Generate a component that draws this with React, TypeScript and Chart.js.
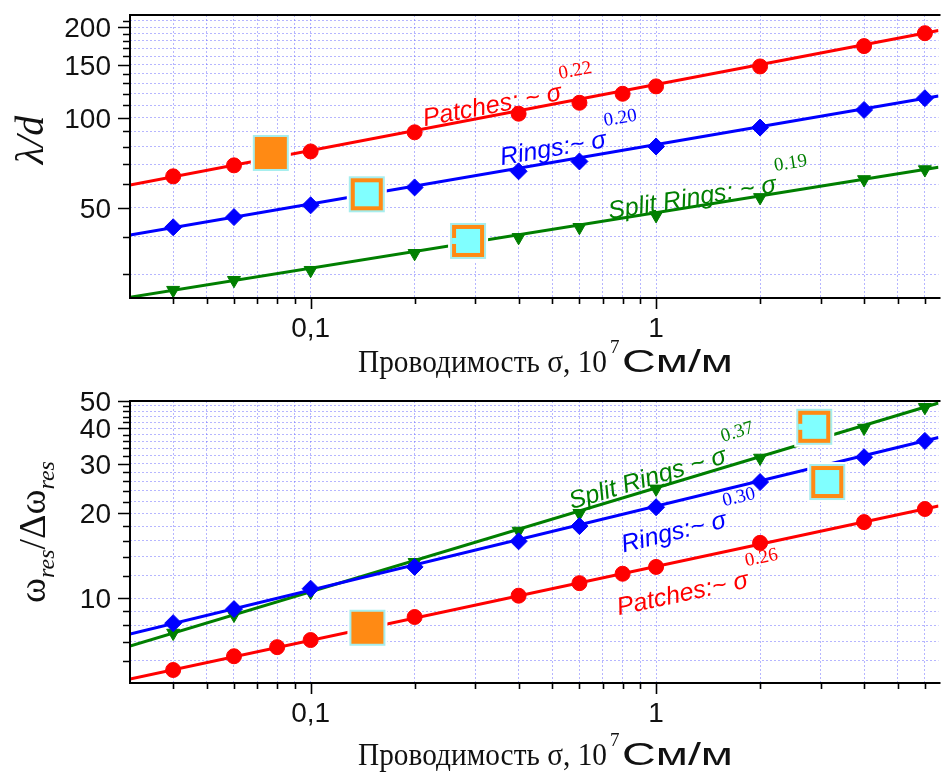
import React, { useEffect, useRef } from 'react';
import { Chart, registerables } from 'chart.js';
Chart.register(...registerables);

// ---------- data (conductivity σ, 10^7 S/m) ----------
const xPatchesTop = [0.04, 0.06, 0.1, 0.2, 0.4, 0.6, 0.8, 1, 2, 4, 6];
const yPatchesTop = [63.7, 69.3, 77.1, 89.3, 103, 112, 120, 127, 148, 173, 191];
const xRingsTop = [0.04, 0.06, 0.1, 0.2, 0.4, 0.6, 1, 2, 4, 6];
const yRingsTop = [43.1, 46.6, 51, 58.5, 66.2, 71.4, 80.1, 92.6, 106, 116];
const xSplitTop = [0.04, 0.06, 0.1, 0.2, 0.4, 0.6, 1, 2, 4, 6];
const ySplitTop = [26.6, 28.7, 31, 35.3, 39.9, 43.1, 47.2, 54.2, 62.2, 67.1];

const xPatchesBot = [0.04, 0.06, 0.08, 0.1, 0.2, 0.4, 0.6, 0.8, 1, 2, 4, 6];
const yPatchesBot = [5.56, 6.22, 6.7, 7.1, 8.57, 10.2, 11.3, 12.2, 12.9, 15.7, 18.6, 20.7];
const xRingsBot = [0.04, 0.06, 0.1, 0.2, 0.4, 0.6, 1, 2, 4, 6];
const yRingsBot = [8.15, 9.14, 10.8, 12.9, 15.9, 18.0, 21.0, 25.8, 31.6, 36.1];
const xSplitBot = [0.04, 0.06, 0.1, 0.2, 0.4, 0.6, 1, 2, 4, 6];
const ySplitBot = [7.52, 8.71, 10.5, 13.4, 17.3, 20.0, 24.4, 31.4, 40.1, 47.5];

// power-law fit lines (end points)
const fitX = [0.03, 6.57];
const fitPatchesTop = [59.6, 195];
const fitRingsTop = [40.6, 118];
const fitSplitTop = [25.2, 68.3];
const fitPatchesBot = [5.16, 21.2];
const fitRingsBot = [7.45, 37.1];
const fitSplitBot = [6.76, 49.2];

// axes
const xRange = [0.03, 6.57];
const xMajor = [0.1, 1];
const xMajorLabels = ['0,1', '1'];
const xMinor = [0.04, 0.05, 0.06, 0.07, 0.08, 0.09, 0.2, 0.3, 0.4, 0.5, 0.6, 0.7, 0.8, 0.9, 2, 3, 4, 5, 6];
const yTopRange = [25.05, 219.6];
const yTopMajor = [50, 100, 150, 200];
const yTopLabels = ['50', '100', '150', '200'];
const yTopMinor = [30, 40, 60, 70, 80, 90, 110, 120, 130, 140, 160, 170, 180, 190, 210];
const yBotRange = [5, 50];
const yBotMajor = [10, 20, 30, 40, 50];
const yBotLabels = ['10', '20', '30', '40', '50'];
const yBotMinor = [6, 7, 8, 9, 12, 14, 16, 18, 22, 24, 26, 28, 32, 34, 36, 38, 42, 44, 46, 48];

// annotations: anchor = end of "σ" on its baseline (series: 0 patches, 1 rings, 2 split rings)
const topLabelX = [0.537, 0.723, 2.244];
const topLabelY = [114.6, 79.8, 56.5];
const topLabelText = ['Patches: ~ σ', 'Rings:~ σ', 'Split Rings: ~ σ'];
const topLabelExp = ['0.22', '0.20', '0.19'];
const topLabelSeries = [0, 1, 2];
const botLabelX = [1.614, 1.614, 1.866];
const botLabelY = [30.3, 17.87, 10.94];
const botLabelText = ['Split Rings ~ σ', 'Rings:~ σ', 'Patches:~ σ'];
const botLabelExp = ['0.37', '0.30', '0.26'];
const botLabelSeries = [2, 1, 0];

// metamaterial element pictograms
const topIconX = [0.0767, 0.1454, 0.2856];
const topIconY = [76.2, 55.5, 38.8];
const topIconKind = ['patch', 'ring', 'split'];
const botIconX = [0.146, 2.87, 3.13];
const botIconY = [7.85, 40.5, 25.8];
const botIconKind = ['patch', 'split', 'ring'];

const RED = '#ff0000';
const BLUE = '#0000ff';
const GREEN = '#007f00';
const SANS = '"Liberation Sans", Arial, sans-serif';
const SERIF = '"Liberation Serif", "Times New Roman", serif';
const GRID = 'rgba(110,110,255,0.5)';

type Series = { xs: number[]; ys: number[]; fit: number[]; color: string; style: string; radius: number; rot: number };

type Panel = {
  width: number;
  height: number;
  top: number;
  plotBottom: number;
  yRange: number[];
  yMajor: number[];
  yLabels: string[];
  yMinor: number[];
  series: Series[];
  labelX: number[];
  labelY: number[];
  labelText: string[];
  labelExp: string[];
  labelSeries: number[];
  iconX: number[];
  iconY: number[];
  iconKind: string[];
  titleBaseline: number;
  yTitle: 'lambda' | 'omega';
  yTitleCenter: number;
};

function drawIcon(ctx: CanvasRenderingContext2D, cx: number, cy: number, kind: string) {
  const s = 36;
  const h = s / 2;
  ctx.save();
  ctx.fillStyle = '#ffffff';
  ctx.fillRect(cx - h - 2, cy - h - 2, s + 4, s + 4);
  ctx.fillStyle = '#a6eeee';
  ctx.fillRect(cx - h, cy - h, s, s);
  ctx.fillStyle = '#ff8a14';
  ctx.fillRect(cx - h + 2, cy - h + 2, s - 4, s - 4);
  if (kind !== 'patch') {
    ctx.fillStyle = '#80ffff';
    ctx.fillRect(cx - h + 6, cy - h + 6, s - 12, s - 12);
    if (kind === 'split') {
      ctx.fillRect(cx - h + 2, cy - 3, 5, 6);
    }
  }
  ctx.restore();
}

function fitText(ctx: CanvasRenderingContext2D, text: string, font: string, x: number, y: number, targetW: number) {
  ctx.save();
  ctx.font = font;
  const w = ctx.measureText(text).width;
  const k = targetW / w;
  ctx.translate(x, y);
  ctx.scale(k, 1);
  ctx.fillText(text, 0, 0);
  ctx.restore();
}

function makePlugin(p: Panel) {
  return {
    id: 'panelDeco',
    afterDatasetsDraw(chart: any) {
      const ctx: CanvasRenderingContext2D = chart.ctx;
      const xs = chart.scales.x;
      const ys = chart.scales.y;
      // pictograms
      p.iconX.forEach((v, i) => {
        drawIcon(ctx, xs.getPixelForValue(v), ys.getPixelForValue(p.iconY[i]), p.iconKind[i]);
      });
      // power-law labels along the lines
      p.labelX.forEach((v, i) => {
        const s = p.series[p.labelSeries[i]];
        const ang = Math.atan2(
          ys.getPixelForValue(s.fit[1]) - ys.getPixelForValue(s.fit[0]),
          xs.getPixelForValue(fitX[1]) - xs.getPixelForValue(fitX[0])
        );
        ctx.save();
        ctx.translate(xs.getPixelForValue(v), ys.getPixelForValue(p.labelY[i]));
        ctx.rotate(ang);
        ctx.fillStyle = s.color;
        ctx.textBaseline = 'alphabetic';
        ctx.font = 'italic 25px ' + SANS;
        ctx.textAlign = 'right';
        ctx.fillText(p.labelText[i], 0, 0);
        ctx.textAlign = 'left';
        ctx.font = '19px ' + SERIF;
        ctx.fillText(p.labelExp[i], 1, -21);
        ctx.restore();
      });
    },
    afterDraw(chart: any) {
      const ctx: CanvasRenderingContext2D = chart.ctx;
      const xs = chart.scales.x;
      const ys = chart.scales.y;
      const a = chart.chartArea;
      ctx.save();
      // frame
      ctx.strokeStyle = '#000';
      ctx.lineWidth = 2;
      ctx.beginPath();
      ctx.moveTo(a.right + 2, a.top);
      ctx.lineTo(a.left, a.top);
      ctx.lineTo(a.left, a.bottom);
      ctx.lineTo(a.right + 2, a.bottom);
      ctx.stroke();
      // ticks
      ctx.lineWidth = 1.6;
      ctx.beginPath();
      p.yMajor.forEach((v) => {
        const y = Math.round(ys.getPixelForValue(v)) + 0.5;
        ctx.moveTo(a.left - 12, y);
        ctx.lineTo(a.left, y);
      });
      p.yMinor.forEach((v) => {
        const y = Math.round(ys.getPixelForValue(v)) + 0.5;
        ctx.moveTo(a.left - 7, y);
        ctx.lineTo(a.left, y);
      });
      xMajor.forEach((v) => {
        const x = Math.round(xs.getPixelForValue(v)) + 0.5;
        ctx.moveTo(x, a.bottom);
        ctx.lineTo(x, a.bottom + 11);
      });
      xMinor.forEach((v) => {
        const x = Math.round(xs.getPixelForValue(v)) + 0.5;
        ctx.moveTo(x, a.bottom);
        ctx.lineTo(x, a.bottom + 6);
      });
      ctx.stroke();
      // tick labels
      ctx.fillStyle = '#111';
      ctx.font = '28px ' + SANS;
      ctx.textBaseline = 'alphabetic';
      ctx.textAlign = 'right';
      p.yMajor.forEach((v, i) => {
        ctx.fillText(p.yLabels[i], a.left - 19, ys.getPixelForValue(v) + 10);
      });
      ctx.textAlign = 'center';
      xMajor.forEach((v, i) => {
        ctx.fillText(xMajorLabels[i], xs.getPixelForValue(v), a.bottom + 39);
      });
      // x title: Проводимость σ, 10^7 См/м
      ctx.textAlign = 'left';
      const tb = p.titleBaseline;
      fitText(ctx, 'Проводимость σ, 10', '32px ' + SERIF, 358, tb, 249);
      ctx.font = '19px ' + SERIF;
      ctx.fillText('7', 610, tb - 19);
      fitText(ctx, 'См/м', '31px ' + SANS, 622, tb, 111);
      // y title
      ctx.save();
      if (p.yTitle === 'lambda') {
        ctx.translate(43, p.yTitleCenter);
        ctx.rotate(-Math.PI / 2);
        ctx.font = 'italic 40px ' + SERIF;
        ctx.textAlign = 'center';
        ctx.fillText('λ/d', 0, 0);
      } else {
        ctx.translate(45, p.yTitleCenter);
        ctx.rotate(-Math.PI / 2);
        const big = '38px ' + SERIF;
        const sub = 'italic 24px ' + SERIF;
        const parts: [string, string, number][] = [
          ['ω', big, 0],
          ['res', sub, 9],
          ['/Δω', big, 0],
          ['res', sub, 9],
        ];
        let total = 0;
        parts.forEach(([t, f]) => {
          ctx.font = f;
          total += ctx.measureText(t).width;
        });
        let x = -total / 2;
        ctx.textAlign = 'left';
        parts.forEach(([t, f, dy]) => {
          ctx.font = f;
          ctx.fillText(t, x, dy);
          x += ctx.measureText(t).width;
        });
      }
      ctx.restore();
      ctx.restore();
    },
  };
}

function buildConfig(p: Panel): any {
  const markers = p.series.map((s) => ({
    data: s.xs.map((x, i) => ({ x, y: s.ys[i] })),
    showLine: false,
    pointStyle: s.style,
    pointRadius: s.radius,
    pointRotation: s.rot,
    pointBackgroundColor: s.color,
    pointBorderColor: s.color,
    pointBorderWidth: 1,
    order: 0,
  }));
  const fits = p.series.map((s) => ({
    data: fitX.map((x, i) => ({ x, y: s.fit[i] })),
    borderColor: s.color,
    borderWidth: 3,
    pointRadius: 0,
    fill: false,
    order: 1,
  }));
  return {
    type: 'line',
    data: { datasets: [...markers, ...fits] },
    options: {
      animation: false,
      responsive: false,
      events: [],
      layout: { padding: { top: p.top, left: 0, right: 0, bottom: 0 } },
      plugins: { legend: { display: false }, tooltip: { enabled: false } },
      scales: {
        x: {
          type: 'logarithmic',
          min: xRange[0],
          max: xRange[1],
          afterBuildTicks: (sc: any) => {
            sc.ticks = [...xMinor, ...xMajor].sort((a, b) => a - b).map((v) => ({ value: v }));
          },
          afterFit: (sc: any) => {
            sc.height = p.height - p.plotBottom;
          },
          ticks: { display: false },
          grid: { color: GRID, lineWidth: 1, drawTicks: false },
          border: { display: false, dash: [2, 2] },
        },
        y: {
          type: 'logarithmic',
          min: p.yRange[0],
          max: p.yRange[1],
          afterBuildTicks: (sc: any) => {
            sc.ticks = [...p.yMinor, ...p.yMajor].sort((a, b) => a - b).map((v) => ({ value: v }));
          },
          afterFit: (sc: any) => {
            sc.width = 130;
          },
          ticks: { display: false },
          grid: { color: GRID, lineWidth: 1, drawTicks: false },
          border: { display: false, dash: [2, 2] },
        },
      },
    },
    plugins: [makePlugin(p)],
  };
}

const topPanel: Panel = {
  width: 948,
  height: 380,
  top: 15,
  plotBottom: 298,
  yRange: yTopRange,
  yMajor: yTopMajor,
  yLabels: yTopLabels,
  yMinor: yTopMinor,
  series: [
    { xs: xPatchesTop, ys: yPatchesTop, fit: fitPatchesTop, color: RED, style: 'circle', radius: 7.5, rot: 0 },
    { xs: xRingsTop, ys: yRingsTop, fit: fitRingsTop, color: BLUE, style: 'rectRot', radius: 8.5, rot: 0 },
    { xs: xSplitTop, ys: ySplitTop, fit: fitSplitTop, color: GREEN, style: 'triangle', radius: 7.5, rot: 180 },
  ],
  labelX: topLabelX,
  labelY: topLabelY,
  labelText: topLabelText,
  labelExp: topLabelExp,
  labelSeries: topLabelSeries,
  iconX: topIconX,
  iconY: topIconY,
  iconKind: topIconKind,
  titleBaseline: 372,
  yTitle: 'lambda',
  yTitleCenter: 140,
};

const botPanel: Panel = {
  width: 948,
  height: 394,
  top: 21,
  plotBottom: 303,
  yRange: yBotRange,
  yMajor: yBotMajor,
  yLabels: yBotLabels,
  yMinor: yBotMinor,
  series: [
    { xs: xPatchesBot, ys: yPatchesBot, fit: fitPatchesBot, color: RED, style: 'circle', radius: 7.5, rot: 0 },
    { xs: xRingsBot, ys: yRingsBot, fit: fitRingsBot, color: BLUE, style: 'rectRot', radius: 8.5, rot: 0 },
    { xs: xSplitBot, ys: ySplitBot, fit: fitSplitBot, color: GREEN, style: 'triangle', radius: 7.5, rot: 180 },
  ],
  labelX: botLabelX,
  labelY: botLabelY,
  labelText: botLabelText,
  labelExp: botLabelExp,
  labelSeries: botLabelSeries,
  iconX: botIconX,
  iconY: botIconY,
  iconKind: botIconKind,
  titleBaseline: 385,
  yTitle: 'omega',
  yTitleCenter: 152,
};

function PanelChart({ panel, top }: { panel: Panel; top: number }) {
  const ref = useRef<HTMLCanvasElement | null>(null);
  useEffect(() => {
    if (!ref.current) return;
    const chart = new Chart(ref.current, buildConfig(panel));
    return () => chart.destroy();
  }, [panel]);
  return (
    <canvas
      ref={ref}
      width={panel.width}
      height={panel.height}
      style={{ position: 'absolute', left: 0, top, width: panel.width, height: panel.height }}
    />
  );
}

export default function App() {
  return (
    <div style={{ position: 'absolute', left: 0, top: 0, width: 948, height: 774, background: '#fff', overflow: 'hidden' }}>
      <PanelChart panel={topPanel} top={0} />
      <PanelChart panel={botPanel} top={380} />
    </div>
  );
}
